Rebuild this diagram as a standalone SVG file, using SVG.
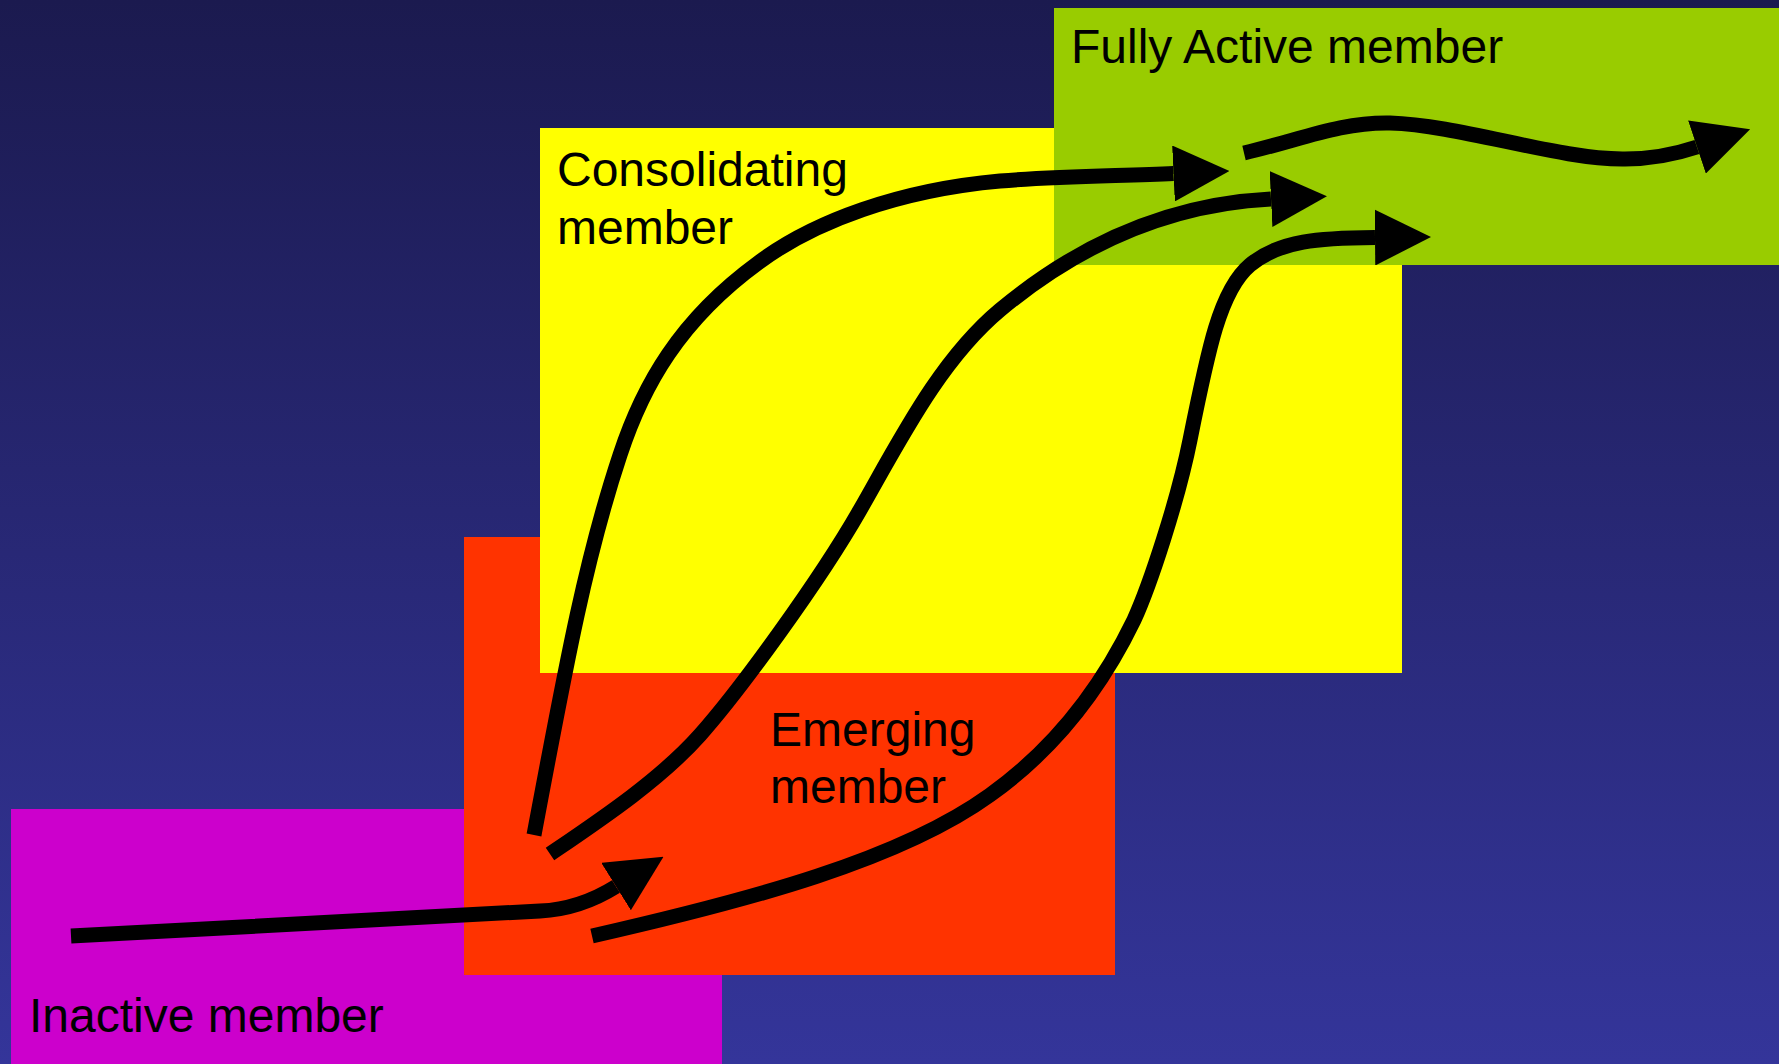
<svg xmlns="http://www.w3.org/2000/svg" width="1779" height="1064" viewBox="0 0 1779 1064">
  <style>
    .lbl { font-family: "Liberation Sans", Arial, sans-serif; font-size: 48px; fill: #000; }
    .conn { fill: none; stroke: #000; stroke-width: 15; stroke-linecap: butt; stroke-linejoin: round; marker-end: url(#arrow); }
  </style>
  <defs>
    <linearGradient id="bg" x1="0" y1="0" x2="0" y2="1">
      <stop offset="0" stop-color="#1b1a4f"/>
      <stop offset="1" stop-color="#34359a"/>
    </linearGradient>
    <marker id="arrow" markerUnits="userSpaceOnUse" viewBox="0 0 56 56" markerWidth="56" markerHeight="56" refX="0" refY="28" orient="auto">
      <path d="M0,0 L56,28 L0,56 Z" fill="#000"/>
    </marker>
  </defs>
  <rect x="0" y="0" width="1779" height="1064" fill="url(#bg)"/>

  <g id="inactive">
    <rect x="11" y="809" width="711" height="255" fill="#cc00cc"/>
    <text class="lbl" x="29" y="1032">Inactive member</text>
  </g>
  <g id="emerging">
    <rect x="464" y="537" width="651" height="438" fill="#ff3300"/>
    <text class="lbl" x="770" y="746">Emerging</text>
    <text class="lbl" x="770" y="803">member</text>
  </g>
  <g id="consolidating">
    <rect x="540" y="128" width="862" height="545" fill="#ffff00"/>
    <text class="lbl" x="557" y="186">Consolidating</text>
    <text class="lbl" x="557" y="244">member</text>
  </g>
  <g id="fully-active">
    <rect x="1054" y="8" width="725" height="257" fill="#99cc00"/>
    <text class="lbl" x="1071" y="63">Fully Active member</text>
  </g>

  <g id="connectors">
    <path class="conn" d="M71,936 L540,911 C562,910 588,904 616,886.5"/>
    <path class="conn" d="M534,835 C565,670 585,560 620,455 C643,385 680,320 758,263 C814,221 900,190 1000,181 C1060,176 1120,176 1173.5,173.5"/>
    <path class="conn" d="M550,854 C600,820 660,780 700,735 C740,690 820,580 860,510 C900,440 940,360 1000,310 C1060,260 1150,205 1271,199"/>
    <path class="conn" d="M592,936 C750,900 900,860 990,795 C1060,745 1105,680 1134,620 C1150,585 1178,500 1190,440 C1208,350 1220,290 1250,265 C1280,240 1320,238 1375,237.5"/>
    <path class="conn" d="M1244,153 C1300,140 1340,122 1390,123 C1460,125 1560,160 1625,159 C1645,159 1670,156 1697,147"/>
  </g>
</svg>
